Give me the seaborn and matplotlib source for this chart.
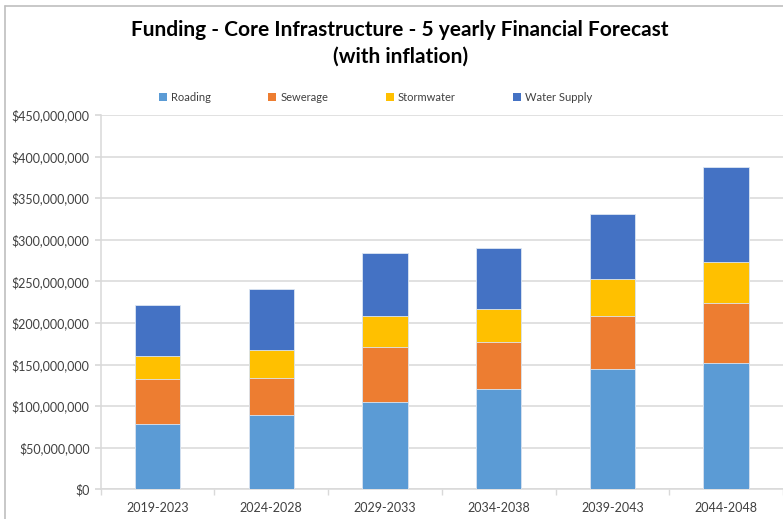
import matplotlib
matplotlib.use("Agg")
import matplotlib.pyplot as plt
import matplotlib.ticker as mticker
from matplotlib.patches import Patch
from matplotlib.lines import Line2D
import seaborn as sns
import pandas as pd
import numpy as np

periods = ["2019-2023", "2024-2028", "2029-2033", "2034-2038", "2039-2043", "2044-2048"]
roading = [79e6, 89e6, 105e6, 120.5e6, 144.6e6, 151.4e6]
sewerage = [54e6, 44.5e6, 66e6, 57e6, 64e6, 72.2e6]
stormwater = [27e6, 34e6, 37e6, 39e6, 43.7e6, 50e6]
water_supply = [61e6, 73.3e6, 76e6, 73.4e6, 78.8e6, 113.4e6]

series_names = ["Roading", "Sewerage", "Stormwater", "Water Supply"]
colors = ["#5B9BD5", "#ED7D31", "#FFC000", "#4472C4"]

sns.set_theme(style="white")
plt.rcParams["font.family"] = ["Lato", "DejaVu Sans"]

df = pd.DataFrame({"period": periods, "Roading": roading, "Sewerage": sewerage,
                   "Stormwater": stormwater, "Water Supply": water_supply})
cum = df[series_names].cumsum(axis=1)

fig = plt.figure(figsize=(7.83, 5.19), dpi=100)
ax = fig.add_axes([0.1286, 0.0572, 0.8714, 0.7212])

for name, col in reversed(list(zip(series_names, colors))):
    sns.barplot(x=df["period"], y=cum[name], color=col, width=0.4, ax=ax,
                edgecolor="#dce6f2", linewidth=0.6, saturation=1, zorder=3)

ax.set_ylim(0, 450e6)
ax.set_xlim(-0.5, len(periods) - 0.5)
ax.yaxis.set_major_locator(mticker.MultipleLocator(50e6))
ax.yaxis.set_major_formatter(mticker.FuncFormatter(lambda v, p: f"${v:,.0f}"))
ax.grid(axis="y", color="#d9d9d9", linewidth=1.1, zorder=0)
ax.set_axisbelow(True)
ax.set_xlabel("")
ax.set_ylabel("")
for s in ["top", "right"]:
    ax.spines[s].set_visible(False)
ax.spines["left"].set_color("#d9d9d9")
ax.spines["bottom"].set_color("#d9d9d9")
ax.spines["left"].set_linewidth(1.1)
ax.spines["bottom"].set_linewidth(1.1)

ax.tick_params(axis="y", which="major", left=True, length=4, color="#d9d9d9",
               labelsize=9, labelcolor="#404040", pad=4)
ax.tick_params(axis="x", which="major", bottom=False, labelsize=9,
               labelcolor="#404040", pad=3)
ax.set_xticks(np.arange(-0.5, len(periods), 1.0), minor=True)
ax.tick_params(axis="x", which="minor", bottom=True, length=4, color="#d9d9d9")

fig.text(0.511, 0.942, "Funding - Core Infrastructure - 5 yearly Financial Forecast",
         ha="center", va="center", fontsize=15, fontweight="bold", color="#000000")
fig.text(0.511, 0.890, "(with inflation)",
         ha="center", va="center", fontsize=15, fontweight="bold", color="#000000")

handles = [Patch(facecolor=c, edgecolor="none") for c in colors]
fig.legend(handles, series_names, loc="center", bbox_to_anchor=(0.48, 0.813),
           ncol=4, frameon=False, fontsize=8, handlelength=0.7, handleheight=0.7,
           handletextpad=0.4, columnspacing=5.15, labelcolor="#404040")

# outer chart border (left and top)
fig.add_artist(Line2D([0.0064, 0.0064], [0, 0.9885], color="#bfbfbf", lw=1.2))
fig.add_artist(Line2D([0.0064, 1.0], [0.9885, 0.9885], color="#bfbfbf", lw=1.2))

fig.savefig("out.png", dpi=100)
